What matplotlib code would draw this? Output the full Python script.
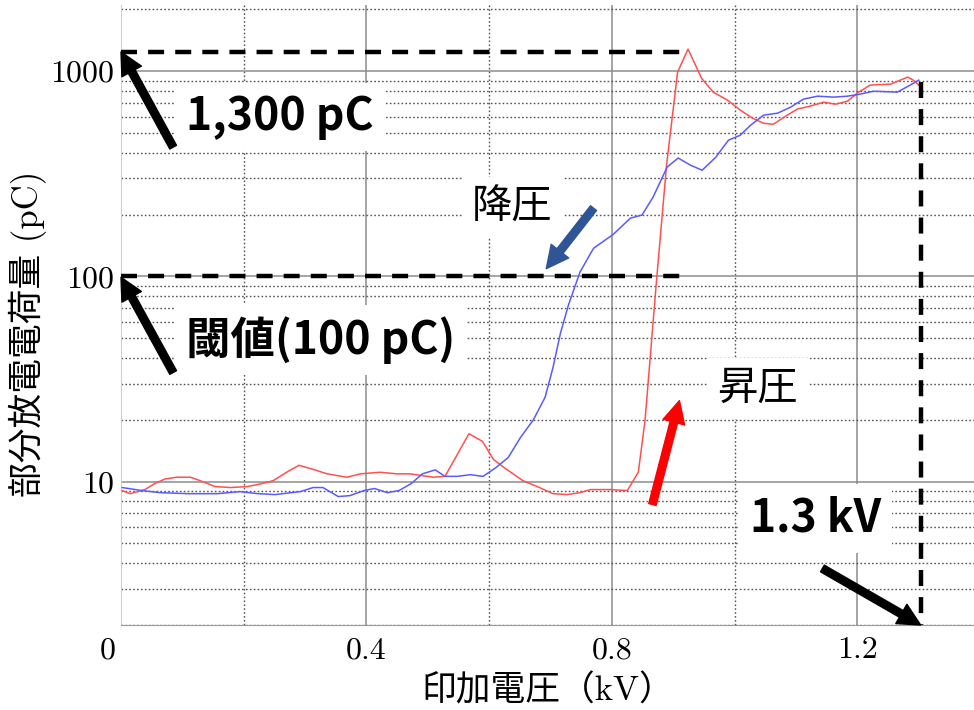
import matplotlib
matplotlib.use('Agg')
import matplotlib.pyplot as plt
from matplotlib.ticker import FixedLocator, LogLocator, NullFormatter
import matplotlib.transforms as mtransforms

plt.rcParams['font.family'] = ['Noto Sans CJK JP', 'DejaVu Sans']

# 昇圧 (voltage going up)
up_kv = [0.002, 0.015, 0.039, 0.055, 0.072, 0.091, 0.113, 0.129, 0.153, 0.178,
         0.207, 0.230, 0.248, 0.272, 0.290, 0.316, 0.336, 0.368, 0.390, 0.422,
         0.450, 0.471, 0.509, 0.528, 0.567, 0.589, 0.607, 0.626, 0.655, 0.678,
         0.704, 0.727, 0.748, 0.765, 0.797, 0.825, 0.843, 0.854, 0.872, 0.889,
         0.907, 0.924, 0.946, 0.965, 0.988, 1.009, 1.029, 1.047, 1.063, 1.083,
         1.102, 1.123, 1.145, 1.164, 1.184, 1.202, 1.221, 1.254, 1.282, 1.291, 1.300]
up_pc = [9.04, 8.73, 9.14, 9.78, 10.3, 10.5, 10.5, 10.1, 9.46, 9.35,
         9.46, 9.78, 10.1, 11.2, 12.0, 11.4, 10.9, 10.5, 10.9, 11.1,
         10.9, 10.9, 10.5, 10.6, 17.1, 15.7, 12.8, 11.6, 10.1, 9.46,
         8.73, 8.64, 8.83, 9.14, 9.14, 9.04, 11.1, 19.9, 90.4, 348,
         989, 1280, 924, 790, 723, 646, 590, 557, 551, 603,
         653, 675, 706, 690, 714, 790, 855, 864, 935, 904, 855]

# 降圧 (voltage going down)
down_kv = [0.002, 0.034, 0.064, 0.108, 0.157, 0.194, 0.223, 0.251, 0.292, 0.313,
           0.329, 0.354, 0.373, 0.396, 0.413, 0.434, 0.453, 0.473, 0.491, 0.512,
           0.528, 0.548, 0.569, 0.590, 0.611, 0.631, 0.651, 0.672, 0.691, 0.704,
           0.716, 0.729, 0.748, 0.770, 0.802, 0.830, 0.849, 0.867, 0.890, 0.908,
           0.928, 0.947, 0.969, 0.990, 1.009, 1.026, 1.047, 1.070, 1.091, 1.112,
           1.135, 1.161, 1.184, 1.205, 1.226, 1.265, 1.286, 1.300]
down_pc = [9.35, 9.04, 8.83, 8.73, 8.73, 8.93, 8.73, 8.64, 8.93, 9.35,
           9.35, 8.45, 8.54, 9.04, 9.25, 8.83, 9.04, 9.78, 10.9, 11.4,
           10.6, 10.6, 10.8, 10.6, 11.7, 13.1, 16.4, 20.0, 25.7, 36.0,
           52.7, 72.3, 105, 137, 160, 192, 199, 243, 341, 377,
           348, 329, 380, 461, 487, 545, 610, 624, 667, 730,
           755, 747, 755, 773, 798, 790, 855, 904]

x_ticks = [0, 0.4, 0.8, 1.2]
x_labels = ['0', '0.4', '0.8', '1.2']
y_ticks = [10, 100, 1000]
y_labels = ['10', '100', '1000']

peak_pc = 1240
threshold_pc = 100
peak_kv = 0.92
max_kv = 1.304

fig = plt.figure(figsize=(9.74, 7.10), dpi=100)
ax = fig.add_axes([121/974, 1-625/710, 1-121/974, (625-5)/710])

ax.set_yscale('log')
ax.set_xlim(0, 1.39)
ax.set_ylim(2, 2100)

ax.xaxis.set_major_locator(FixedLocator(x_ticks))
ax.xaxis.set_minor_locator(FixedLocator([0.2, 0.6, 1.0]))
ax.yaxis.set_major_locator(FixedLocator(y_ticks))
ax.yaxis.set_minor_locator(LogLocator(base=10, subs=range(2, 10)))
ax.yaxis.set_minor_formatter(NullFormatter())
ax.set_xticklabels([''] + x_labels[1:], fontfamily='cmr10', fontsize=23)
ax.set_yticklabels(y_labels, fontfamily='cmr10', fontsize=23)
ax.tick_params(which='both', length=0)
ax.tick_params(axis='x', pad=8.5)
ax.tick_params(axis='y', pad=5)
# "0" sits a little left of the axis start
ax.text(-0.021, -0.019, x_labels[0], transform=mtransforms.blended_transform_factory(ax.transData, ax.transAxes),
        ha='center', va='top', fontfamily='cmr10', fontsize=23)

ax.set_axisbelow(True)
ax.grid(which='major', color='#8c8c8c', lw=1.1)
ax.grid(which='minor', color='#555555', lw=1.0, linestyle=(0, (1.2, 1.6)))
for s in ['top', 'right']:
    ax.spines[s].set_visible(False)
ax.spines['left'].set_color('#d0d0d0')
ax.spines['bottom'].set_color('#999999')

ax.plot(up_kv, up_pc, color='#ff5050', lw=1.1, zorder=3)
ax.plot(down_kv, down_pc, color='#5a5aff', lw=1.1, zorder=3)

dash = dict(color='black', lw=3.2, dashes=(3.6, 2.5), zorder=4)
ax.plot([0, peak_kv], [peak_pc, peak_pc], **dash)
ax.plot([0, peak_kv], [threshold_pc, threshold_pc], **dash)
ax.plot([max_kv, max_kv], [884, 2], clip_on=False, **dash)

box = dict(boxstyle='square,pad=0.25', fc='white', ec='none')
ax.text(0.258, 597, '1,300 pC', fontsize=32, fontweight='bold', ha='center', va='center', bbox=box, zorder=2)
ax.text(0.3245, 48.7, '閾値(100 pC)', fontsize=32, fontweight='bold', ha='center', va='center', bbox=box, zorder=2)
ax.text(0.6375, 217, '降圧', fontsize=29, ha='center', va='center', bbox=box, zorder=2)
ax.text(1.037, 28.5, '昇圧', fontsize=29, ha='center', va='center', bbox=box, zorder=2)
ax.text(1.1316, 6.6, '1.3 kV', fontsize=32, fontweight='bold', ha='center', va='center', bbox=box, zorder=2)


def arrow(tail, tip, color):
    ax.annotate('', xy=tip, xytext=tail, annotation_clip=False, zorder=5,
                arrowprops=dict(facecolor=color, edgecolor=color, width=5.5,
                                headwidth=16, headlength=16, shrink=0))


arrow((0.085, 426), (0.0, peak_pc), 'black')
arrow((0.085, 34.0), (0.0, 98.9), 'black')
arrow((0.770, 215), (0.693, 109), '#2f5597')
arrow((0.866, 7.73), (0.910, 24.8), '#ff0000')
arrow((1.143, 3.77), (1.303, 2.0), 'black')

fig.text(28/974, 1-334/710, '部分放電電荷量 (pC)', rotation=90, ha='center', va='center',
         fontsize=25, family=['cmr10', 'Noto Sans CJK JP'])
fig.text(548/974, 1-691/710, '印加電圧（kV）', ha='center', va='center',
         fontsize=25, family=['cmr10', 'Noto Sans CJK JP'])

fig.savefig('out.png', dpi=100)
